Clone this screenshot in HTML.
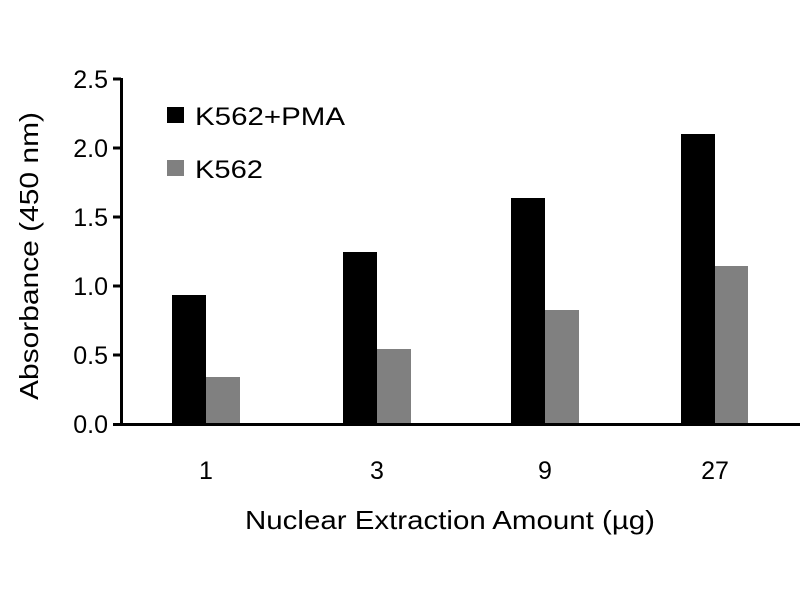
<!DOCTYPE html>
<html><head><style>body{margin:0;background:#fff}</style></head><body>
<svg width="800" height="600" xmlns="http://www.w3.org/2000/svg" font-family="Liberation Sans, sans-serif">
<rect width="800" height="600" fill="#fff"/>
<g fill="#000">
<rect x="172" y="295" width="34" height="129"/>
<rect x="343" y="252" width="34" height="172"/>
<rect x="511" y="198" width="34" height="226"/>
<rect x="681" y="134" width="34" height="290"/>
</g>
<g fill="#808080">
<rect x="206" y="377" width="34" height="47"/>
<rect x="377" y="349" width="34" height="75"/>
<rect x="545" y="310" width="34" height="114"/>
<rect x="715" y="266" width="33" height="158"/>
</g>
<line x1="121.5" y1="78" x2="121.5" y2="425" stroke="#000" stroke-width="3"/>
<line x1="113" y1="424.5" x2="800" y2="424.5" stroke="#000" stroke-width="3"/>
<g stroke="#000" stroke-width="3">
<line x1="113" y1="79" x2="121" y2="79"/>
<line x1="113" y1="148" x2="121" y2="148"/>
<line x1="113" y1="217" x2="121" y2="217"/>
<line x1="113" y1="286" x2="121" y2="286"/>
<line x1="113" y1="355" x2="121" y2="355"/>
</g>
<g font-size="25" text-anchor="end" fill="#000">
<text x="108" y="88">2.5</text>
<text x="108" y="157">2.0</text>
<text x="108" y="226">1.5</text>
<text x="108" y="295">1.0</text>
<text x="108" y="364">0.5</text>
<text x="108" y="433">0.0</text>
</g>
<g font-size="25" text-anchor="middle">
<text x="206" y="479">1</text>
<text x="377" y="479">3</text>
<text x="545" y="479">9</text>
<text x="715" y="479">27</text>
</g>
<text x="245" y="529" font-size="26" textLength="410" lengthAdjust="spacingAndGlyphs">Nuclear Extraction Amount (µg)</text>
<text transform="translate(38,400) rotate(-90)" font-size="26" textLength="288" lengthAdjust="spacingAndGlyphs">Absorbance (450 nm)</text>
<rect x="167" y="107" width="17" height="16" fill="#000"/>
<rect x="167" y="160" width="17" height="16" fill="#808080"/>
<text x="195" y="125" font-size="25" textLength="150" lengthAdjust="spacingAndGlyphs">K562+PMA</text>
<text x="195" y="178" font-size="25" textLength="68" lengthAdjust="spacingAndGlyphs">K562</text>
</svg>
</body></html>
